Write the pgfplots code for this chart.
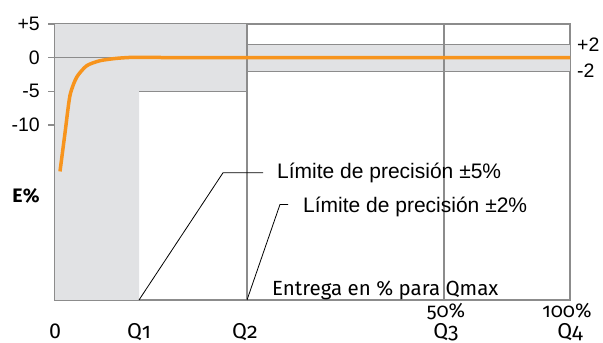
\documentclass[border=0pt]{standalone}
\usepackage{pgfplots}
\pgfplotsset{compat=1.18}
\usepackage{fontspec}
\setmainfont{Liberation Sans}
\newfontfamily\fira[Numbers=OldStyle]{Fira Sans}
\newfontfamily\firaln{Fira Sans}
\definecolor{gridc}{HTML}{8C8C8C}
\definecolor{shade}{HTML}{E1E2E4}
\definecolor{curve}{HTML}{F7941D}
\begin{document}
\begin{tikzpicture}[x=1pt,y=1pt]
\begin{axis}[
  at={(55pt,43pt)}, anchor=south west,
  scale only axis, width=515pt, height=276pt,
  xmin=0, xmax=515, ymin=-36, ymax=5,
  axis line style={draw=gridc, line width=1.1pt},
  xtick=\empty,
  ytick={-10,-5,0,5}, yticklabels={,,,},
  ytick pos=left, tick align=outside, major tick length=7pt,
  tick style={draw=gridc, line width=1.1pt},
  clip=false,
]
% shaded areas
\addplot[fill=shade, draw=none] coordinates {(0,-36) (0,5) (192,5) (192,-5) (84,-5) (84,-36)} -- cycle;
\addplot[fill=shade, draw=none] coordinates {(192,-2) (192,2) (515,2) (515,-2)} -- cycle;
% grey lines
\addplot[gridc, line width=1.1pt] coordinates {(0,0) (515,0)};
\addplot[gridc, line width=1.1pt] coordinates {(84,-5) (192,-5)};
\addplot[gridc, line width=1.1pt] coordinates {(192,2) (515,2)};
\addplot[gridc, line width=1.1pt] coordinates {(192,-2) (515,-2)};
\addplot[gridc, line width=1.1pt] coordinates {(192,-36) (192,5)};
\addplot[gridc, line width=1.1pt] coordinates {(389,-36) (389,5)};
% leader lines
\addplot[black, line width=0.8pt] coordinates {(84,-36) (168,-17.1) (208,-17.1)};
\addplot[black, line width=0.8pt] coordinates {(192,-36) (225,-21.8) (233,-21.8)};
% error curve
\addplot[curve, line width=3.5pt, smooth, tension=0.4] coordinates {
 (5,-16.9) (10,-11.2) (15,-5.6) (21.7,-2.9) (31.7,-1.2) (45,-0.45) (61.7,-0.1) (78,0.05) (100,0.05) (140,0) (515,0)};
% y tick labels
\node[anchor=east, font=\fontsize{19.5}{19.5}\selectfont, inner sep=0pt, xshift=-15pt] at (axis cs:0,5) {+5};
\node[anchor=east, font=\fontsize{19.5}{19.5}\selectfont, inner sep=0pt, xshift=-15pt] at (axis cs:0,0) {0};
\node[anchor=east, font=\fontsize{19.5}{19.5}\selectfont, inner sep=0pt, xshift=-15pt] at (axis cs:0,-5) {-5};
\node[anchor=east, font=\fontsize{19.5}{19.5}\selectfont, inner sep=0pt, xshift=-15pt] at (axis cs:0,-10) {-10};
% texts
\node[anchor=west, font=\fontsize{21}{21}\selectfont, inner sep=0pt] at (axis cs:222,-17.1) {Límite de precisión ±5\%};
\node[anchor=west, font=\fontsize{21}{21}\selectfont, inner sep=0pt] at (axis cs:248,-22.2) {Límite de precisión ±2\%};
\node[anchor=base west, font=\fira\fontsize{20.5}{20.5}\selectfont, inner sep=0pt, yshift=4pt] at (axis cs:217,-36) {Entrega en \% para Qmax};
\node[anchor=west, font=\fontsize{19.5}{19.5}\selectfont, inner sep=0pt, xshift=7pt] at (axis cs:515,2) {+2};
\node[anchor=west, font=\fontsize{19.5}{19.5}\selectfont, inner sep=0pt, xshift=7pt] at (axis cs:515,-2) {-2};
\node[font=\fira\bfseries\fontsize{19.5}{19.5}\selectfont, inner sep=0pt] at (axis cs:-29,-20.5) {E\%};
\node[anchor=base, font=\firaln\fontsize{21.5}{21.5}\selectfont, inner sep=0pt, yshift=-39pt] at (axis cs:0,-36) {0};
\node[anchor=base, font=\fira\fontsize{21.5}{21.5}\selectfont, inner sep=0pt, yshift=-39pt] at (axis cs:84,-36) {Q1};
\node[anchor=base, font=\fira\fontsize{21.5}{21.5}\selectfont, inner sep=0pt, yshift=-39pt] at (axis cs:190,-36) {Q2};
\node[anchor=base, font=\fira\fontsize{21.5}{21.5}\selectfont, inner sep=0pt, yshift=-39pt] at (axis cs:391,-36) {Q3};
\node[anchor=base, font=\fira\fontsize{21.5}{21.5}\selectfont, inner sep=0pt, yshift=-39pt] at (axis cs:515,-36) {Q4};
\node[anchor=base, font=\fira\fontsize{20}{20}\selectfont, inner sep=0pt, yshift=-18pt] at (axis cs:391,-36) {50\%};
\node[anchor=base, font=\fira\fontsize{20}{20}\selectfont, inner sep=0pt, yshift=-18pt] at (axis cs:512,-36) {100\%};
\end{axis}
\pgfresetboundingbox
\path[use as bounding box] (0,0) rectangle (603,343);
\end{tikzpicture}
\end{document}
